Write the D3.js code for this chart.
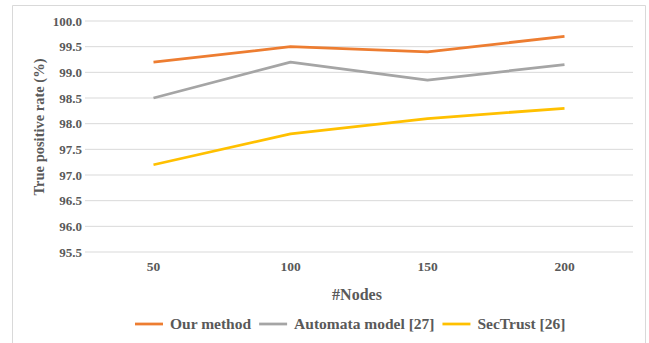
<!DOCTYPE html>
<html>
<head>
<meta charset="utf-8">
<script src="https://cdn.jsdelivr.net/npm/d3@7"></script>
<style>
  html, body { margin: 0; padding: 0; background: #fff; }
  svg { display: block; }
  text { font-family: "Liberation Serif", "Times New Roman", serif; font-weight: bold; fill: #595959; }
</style>
</head>
<body>
<svg id="chart" width="649" height="343"></svg>
<script>
// Detection results per network size
const nodes = ["50", "100", "150", "200"];
const ourMethod = [99.2, 99.5, 99.4, 99.7];
const automataModel = [98.5, 99.2, 98.85, 99.15];
const secTrust = [97.2, 97.8, 98.1, 98.3];
const yTicks = [95.5, 96.0, 96.5, 97.0, 97.5, 98.0, 98.5, 99.0, 99.5, 100.0];

const seriesNames = ["Our method", "Automata model [27]", "SecTrust [26]"];
const seriesValues = [ourMethod, automataModel, secTrust];
const seriesColors = ["#ED7D31", "#A5A5A5", "#FFC000"];

const svg = d3.select("#chart");

// outer chart frame (open at the bottom)
svg.append("path")
  .attr("d", "M12.5,343 V5.5 H645.5 V343")
  .attr("fill", "none")
  .attr("stroke", "#D9D9D9")
  .attr("stroke-width", 1);

const plot = { left: 85, right: 633, top: 21, bottom: 252 };

const x = d3.scaleBand().domain(nodes).range([plot.left, plot.right]);
const y = d3.scaleLinear().domain([95.5, 100]).range([plot.bottom, plot.top]);

// horizontal gridlines
svg.append("g")
  .selectAll("line")
  .data(yTicks)
  .join("line")
  .attr("x1", plot.left)
  .attr("x2", plot.right)
  .attr("y1", d => y(d))
  .attr("y2", d => y(d))
  .attr("stroke", "#D9D9D9")
  .attr("stroke-width", 1);

// y axis labels
const yAxis = d3.axisLeft(y).tickValues(yTicks).tickFormat(d3.format(".1f")).tickSize(0).tickPadding(3);
const gy = svg.append("g").attr("transform", `translate(${plot.left},0)`).call(yAxis);
gy.select(".domain").remove();
gy.selectAll("text").style("font-size", "13px").attr("fill", "#595959");

// x axis labels
const xAxis = d3.axisBottom(x).tickSize(0).tickPadding(9);
const gx = svg.append("g").attr("transform", `translate(0,${plot.bottom})`).call(xAxis);
gx.select(".domain").remove();
gx.selectAll("text").style("font-size", "13.5px").attr("fill", "#595959");

// axis titles
svg.append("text")
  .attr("transform", `translate(44,127) rotate(-90)`)
  .attr("text-anchor", "middle")
  .style("font-size", "14.5px")
  .text("True positive rate (%)");

svg.append("text")
  .attr("x", 357)
  .attr("y", 300)
  .attr("text-anchor", "middle")
  .style("font-size", "16px")
  .text("#Nodes");

// series lines
const line = d3.line()
  .x((d, i) => x(nodes[i]) + x.bandwidth() / 2)
  .y(d => y(d));

svg.append("g")
  .selectAll("path")
  .data(seriesValues)
  .join("path")
  .attr("d", d => line(d))
  .attr("fill", "none")
  .attr("stroke", (d, i) => seriesColors[i])
  .attr("stroke-width", 2.75)
  .attr("stroke-linejoin", "round");

// legend
const legend = svg.append("g");
let lx = 135;
const ly = 324;
seriesNames.forEach((name, i) => {
  legend.append("line")
    .attr("x1", lx).attr("x2", lx + 28)
    .attr("y1", ly).attr("y2", ly)
    .attr("stroke", seriesColors[i])
    .attr("stroke-width", 2.75);
  const t = legend.append("text")
    .attr("x", lx + 35)
    .attr("y", ly + 5)
    .style("font-size", "15.5px")
    .text(name);
  lx += 35 + t.node().getComputedTextLength() + 8;
});
</script>
</body>
</html>
